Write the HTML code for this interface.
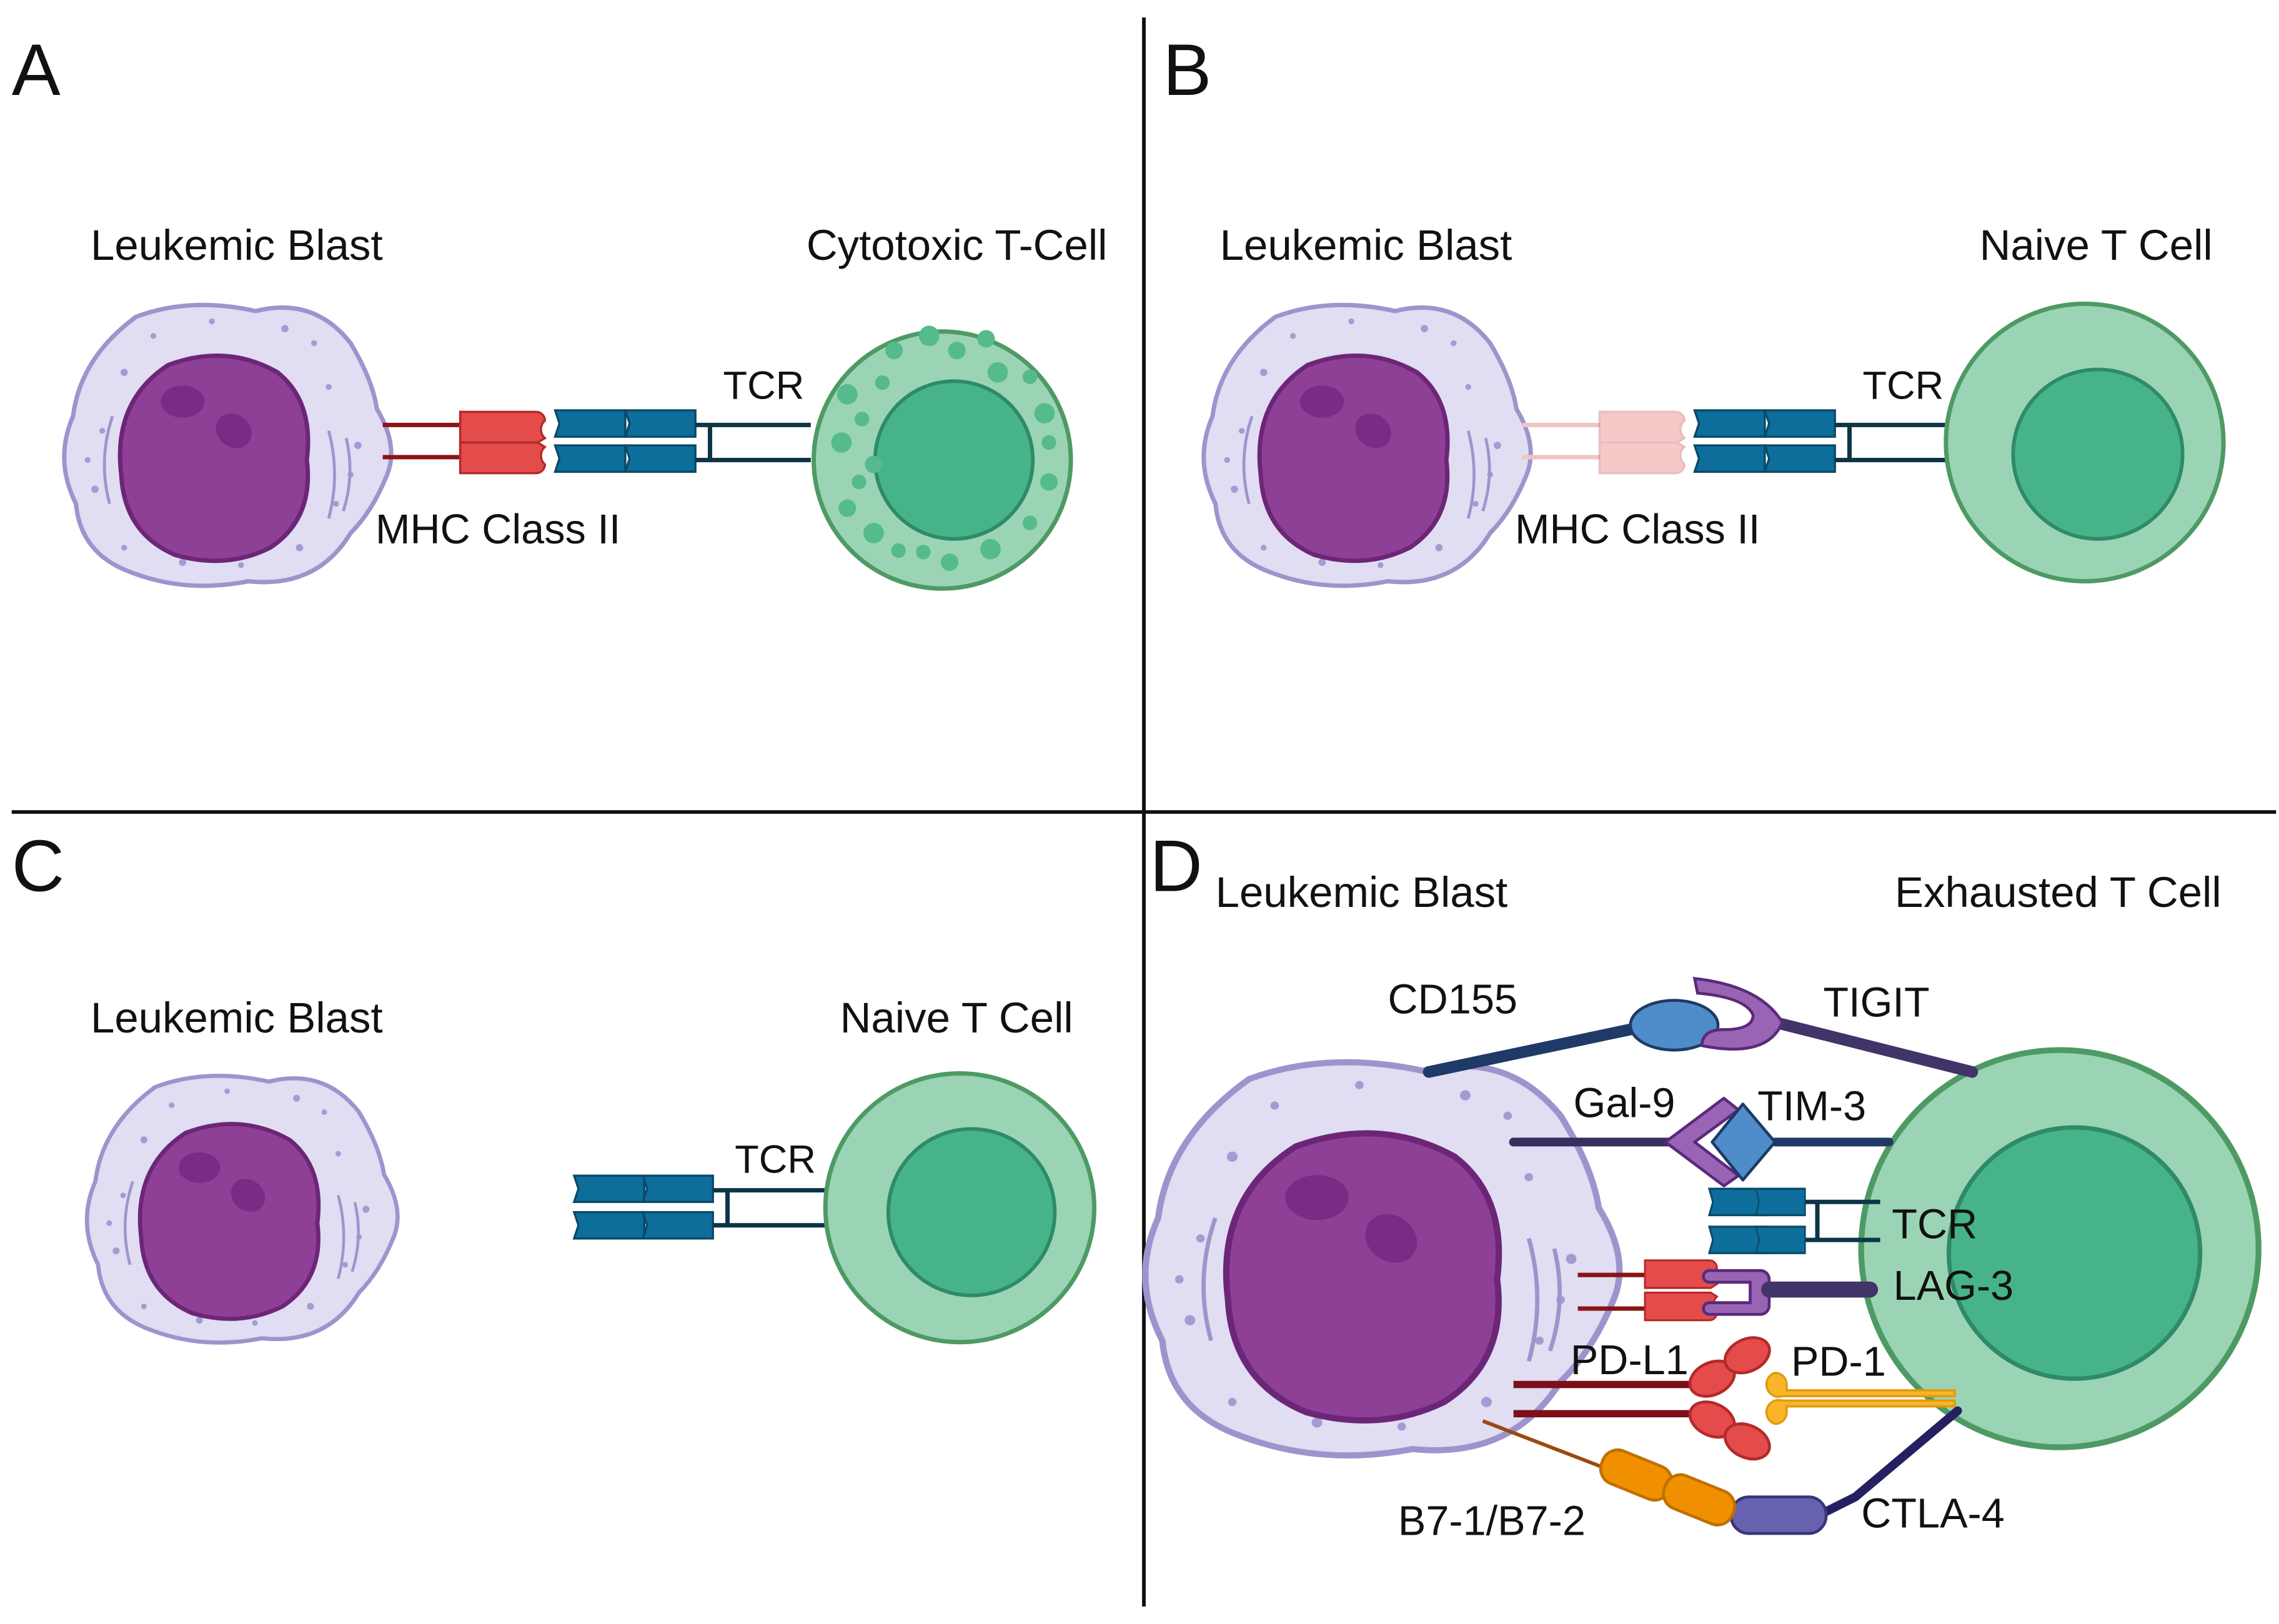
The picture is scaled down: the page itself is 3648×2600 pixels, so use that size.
<!DOCTYPE html>
<html><head><meta charset="utf-8"><style>
html,body{margin:0;padding:0;background:#fff;}
svg{display:block;}
text{font-family:"Liberation Sans",sans-serif;fill:#111;}
</style></head><body>
<svg width="3648" height="2600" viewBox="0 0 1560 1112" preserveAspectRatio="none" xmlns="http://www.w3.org/2000/svg">
<defs>
<g id="blast">
<path d="M -62,-88 Q -25,-102 20,-92 Q 60,-102 85,-70 Q 100,-45 103,-25 Q 118,0 110,20 Q 100,45 85,60 Q 62,98 15,93 Q -30,102 -70,85 Q -100,72 -103,40 Q -118,10 -105,-20 Q -100,-60 -62,-88 Z" fill="#e1ddf2" stroke="#9e94cd" stroke-width="3"/>
<g fill="#a49bd2">
<circle cx="-70" cy="-50" r="2.5"/><circle cx="-85" cy="-10" r="2"/><circle cx="-90" cy="30" r="2.5"/><circle cx="-70" cy="70" r="2"/><circle cx="-30" cy="80" r="2.5"/><circle cx="10" cy="82" r="2"/><circle cx="50" cy="70" r="2.5"/><circle cx="75" cy="40" r="2"/><circle cx="90" cy="0" r="2.5"/><circle cx="70" cy="-40" r="2"/><circle cx="40" cy="-80" r="2.5"/><circle cx="-10" cy="-85" r="2"/><circle cx="-50" cy="-75" r="2"/><circle cx="60" cy="-70" r="2"/><circle cx="85" cy="20" r="2"/><circle cx="-95" cy="10" r="2"/>
</g>
<path d="M 70,-10 Q 78,20 70,50" fill="none" stroke="#9e94cd" stroke-width="2"/>
<path d="M 82,-5 Q 88,20 80,45" fill="none" stroke="#9e94cd" stroke-width="2"/>
<path d="M -78,-20 Q -88,10 -80,40" fill="none" stroke="#9e94cd" stroke-width="2"/>
<path d="M -40,-55 Q 0,-70 35,-50 Q 60,-30 55,10 Q 60,50 30,70 Q 0,85 -35,75 Q -70,60 -72,20 Q -78,-30 -40,-55 Z" fill="#8e3f96" stroke="#6c2677" stroke-width="3"/>
<ellipse cx="-30" cy="-30" rx="15" ry="11" fill="#792c83"/>
<ellipse cx="5" cy="-10" rx="13" ry="11" fill="#792c83" transform="rotate(40 5 -10)"/>
</g>
<g id="mhc">
<path d="M0,0 h52 a6,6 0 0 1 6,6 a8,8 0 0 0 0,12 l-5,3 h-53 z" fill="#e44c4c" stroke="#b42a2a" stroke-width="1.5"/>
</g>
<g id="tcrblk">
<path d="M0,0 h48 v18 h-48 l3,-9 z" fill="#0d6e9c" stroke="#0a4a6a" stroke-width="1.5"/>
</g>
</defs>

<line x1="783" y1="12" x2="783" y2="1100" stroke="#111" stroke-width="2.5"/>
<line x1="8" y1="556" x2="1558" y2="556" stroke="#111" stroke-width="2.5"/>

<text x="8" y="65" font-size="50">A</text>
<text x="796" y="65" font-size="50">B</text>
<text x="8" y="610" font-size="50">C</text>
<text x="787" y="610" font-size="50">D</text>

<!-- Panel A -->
<text x="62" y="178" font-size="29.5">Leukemic Blast</text>
<text x="552" y="178" font-size="29.5">Cytotoxic T-Cell</text>
<use href="#blast" transform="translate(155,305)"/>
<line x1="262" y1="291" x2="315" y2="291" stroke="#8b1414" stroke-width="3"/>
<line x1="262" y1="313" x2="315" y2="313" stroke="#8b1414" stroke-width="3"/>
<use href="#mhc" transform="translate(315,282)"/>
<use href="#mhc" transform="translate(315,324) scale(1,-1)"/>
<use href="#tcrblk" transform="translate(380,281)"/>
<use href="#tcrblk" transform="translate(428,281)"/>
<use href="#tcrblk" transform="translate(380,305)"/>
<use href="#tcrblk" transform="translate(428,305)"/>
<path d="M476,291 H555 M476,315 H555 M486,291 V315" stroke="#0d3546" stroke-width="3" fill="none"/>
<text x="495" y="273" font-size="27">TCR</text>
<text x="257" y="372" font-size="28.5">MHC Class II</text>
<circle cx="645" cy="315" r="88" fill="#9ad4b4" stroke="#4e9a64" stroke-width="3"/>
<circle cx="653" cy="315" r="54" fill="#46b488" stroke="#2e8a68" stroke-width="2.5"/>
<g fill="#55bb8d">
<circle cx="580" cy="270" r="7"/><circle cx="590" cy="287" r="5"/><circle cx="576" cy="303" r="7"/><circle cx="588" cy="330" r="5"/><circle cx="580" cy="348" r="6"/><circle cx="598" cy="365" r="7"/><circle cx="615" cy="377" r="5"/><circle cx="632" cy="378" r="5"/><circle cx="650" cy="385" r="6"/><circle cx="678" cy="376" r="7"/><circle cx="705" cy="358" r="5"/><circle cx="718" cy="330" r="6"/><circle cx="718" cy="303" r="5"/><circle cx="715" cy="283" r="7"/><circle cx="705" cy="258" r="5"/><circle cx="683" cy="255" r="7"/><circle cx="675" cy="232" r="6"/><circle cx="655" cy="240" r="6"/><circle cx="636" cy="230" r="7"/><circle cx="612" cy="240" r="6"/><circle cx="604" cy="262" r="5"/><circle cx="598" cy="318" r="6"/>
</g>

<!-- Panel B -->
<text x="835" y="178" font-size="29.5">Leukemic Blast</text>
<text x="1355" y="178" font-size="29.5">Naive T Cell</text>
<use href="#blast" transform="translate(935,305)"/>
<line x1="1042" y1="291" x2="1095" y2="291" stroke="#f0c4c4" stroke-width="3"/>
<line x1="1042" y1="313" x2="1095" y2="313" stroke="#f0c4c4" stroke-width="3"/>
<g opacity="0.3"><use href="#mhc" transform="translate(1095,282)"/><use href="#mhc" transform="translate(1095,324) scale(1,-1)"/></g>
<use href="#tcrblk" transform="translate(1160,281)"/>
<use href="#tcrblk" transform="translate(1208,281)"/>
<use href="#tcrblk" transform="translate(1160,305)"/>
<use href="#tcrblk" transform="translate(1208,305)"/>
<path d="M1256,291 H1337 M1256,315 H1337 M1266,291 V315" stroke="#0d3546" stroke-width="3" fill="none"/>
<text x="1275" y="273" font-size="27">TCR</text>
<text x="1037" y="372" font-size="28.5">MHC Class II</text>
<circle cx="1427" cy="303" r="95" fill="#9ad4b4" stroke="#4e9a64" stroke-width="3"/>
<circle cx="1436" cy="311" r="58" fill="#46b488" stroke="#2e8a68" stroke-width="2.5"/>

<!-- Panel C -->
<text x="62" y="707" font-size="29.5">Leukemic Blast</text>
<text x="575" y="707" font-size="29.5">Naive T Cell</text>
<use href="#blast" transform="translate(165,828) scale(0.95)"/>
<use href="#tcrblk" transform="translate(393,805)"/>
<use href="#tcrblk" transform="translate(440,805)"/>
<use href="#tcrblk" transform="translate(393,830)"/>
<use href="#tcrblk" transform="translate(440,830)"/>
<path d="M488,815 H567 M488,839 H567 M498,815 V839" stroke="#0d3546" stroke-width="3" fill="none"/>
<text x="503" y="803" font-size="27">TCR</text>
<circle cx="657" cy="827" r="92" fill="#9ad4b4" stroke="#4e9a64" stroke-width="3"/>
<circle cx="665" cy="830" r="57" fill="#46b488" stroke="#2e8a68" stroke-width="2.5"/>

<!-- Panel D -->
<text x="832" y="621" font-size="29.5">Leukemic Blast</text>
<text x="1297" y="621" font-size="29.5">Exhausted T Cell</text>
<use href="#blast" transform="translate(945,862) scale(1.45,1.4)"/>
<circle cx="1410" cy="855" r="136" fill="#9ad4b4" stroke="#4e9a64" stroke-width="4"/>
<circle cx="1420" cy="858" r="86" fill="#46b488" stroke="#2e8a68" stroke-width="3"/>

<text x="950" y="694" font-size="28.5">CD155</text>
<text x="1248" y="696" font-size="28.5">TIGIT</text>
<line x1="978" y1="734" x2="1125" y2="703" stroke="#1f3a66" stroke-width="8" stroke-linecap="round"/>
<line x1="1215" y1="700" x2="1350" y2="734" stroke="#413468" stroke-width="8" stroke-linecap="round"/>
<ellipse cx="1146" cy="702" rx="30" ry="17" fill="#4f8cca" stroke="#1f3a66" stroke-width="2"/>
<path d="M1160,670 Q1205,675 1220,700 Q1210,725 1165,716 Q1165,705 1180,705 Q1200,705 1200,695 Q1195,683 1162,680 Z" fill="#9a64b4" stroke="#5a2a7a" stroke-width="2"/>

<text x="1077" y="765" font-size="28.5">Gal-9</text>
<text x="1203" y="767" font-size="28.5">TIM-3</text>
<line x1="1036" y1="782" x2="1145" y2="782" stroke="#362f60" stroke-width="6" stroke-linecap="round"/>
<line x1="1215" y1="782" x2="1293" y2="782" stroke="#1f3a66" stroke-width="6" stroke-linecap="round"/>
<path d="M1140,782 L1180,752 L1190,760 L1160,782 L1190,805 L1180,812 Z" fill="#9a64b4" stroke="#5a2a7a" stroke-width="2" stroke-linejoin="round"/>
<path d="M1193,756 L1215,782 L1193,808 L1172,782 Z" fill="#4f8cca" stroke="#1f3a66" stroke-width="2" stroke-linejoin="round"/>

<use href="#tcrblk" transform="translate(1170,814) scale(0.85,1)"/>
<use href="#tcrblk" transform="translate(1202,814) scale(0.7,1)"/>
<use href="#tcrblk" transform="translate(1170,840) scale(0.85,1)"/>
<use href="#tcrblk" transform="translate(1202,840) scale(0.7,1)"/>
<path d="M1236,823 H1287 M1236,849 H1287 M1244,823 V849" stroke="#0d3546" stroke-width="3" fill="none"/>
<text x="1295" y="848" font-size="28.5">TCR</text>

<line x1="1080" y1="873" x2="1126" y2="873" stroke="#8b1414" stroke-width="3"/>
<line x1="1080" y1="896" x2="1126" y2="896" stroke="#8b1414" stroke-width="3"/>
<use href="#mhc" transform="translate(1126,863) scale(0.85,0.9)"/>
<use href="#mhc" transform="translate(1126,904) scale(0.85,-0.9)"/>
<path d="M1170,870 h35 a6,6 0 0 1 6,6 v18 a6,6 0 0 1 -6,6 h-35 a4,4 0 0 1 0,-8 h28 v-14 h-28 a4,4 0 0 1 0,-8 z" fill="#9a64b4" stroke="#5a2a7a" stroke-width="2"/>
<line x1="1211" y1="883" x2="1280" y2="883" stroke="#413468" stroke-width="11" stroke-linecap="round"/>
<text x="1296" y="890" font-size="28.5">LAG-3</text>

<text x="1075" y="941" font-size="28.5">PD-L1</text>
<text x="1226" y="942" font-size="28.5">PD-1</text>
<line x1="1036" y1="948" x2="1165" y2="948" stroke="#7c0f18" stroke-width="5"/>
<line x1="1036" y1="968" x2="1165" y2="968" stroke="#7c0f18" stroke-width="5"/>
<g fill="#e44c4c" stroke="#b42a2a" stroke-width="2">
<ellipse cx="1172" cy="944" rx="16" ry="11" transform="rotate(-25 1172 944)"/>
<ellipse cx="1196" cy="928" rx="16" ry="11" transform="rotate(-25 1196 928)"/>
<ellipse cx="1172" cy="972" rx="16" ry="11" transform="rotate(25 1172 972)"/>
<ellipse cx="1196" cy="987" rx="16" ry="11" transform="rotate(25 1196 987)"/>
</g>
<g fill="#f9b52a" stroke="#e09a10" stroke-width="1.5">
<path d="M1215,940 a8,8 0 0 1 8,8 v4 H1338 v4 H1220 a8,8 0 0 1 -5,-16 z"/>
<path d="M1215,975 a8,8 0 0 0 8,-8 v-4 H1338 v-4 H1220 a8,8 0 0 0 -5,16 z"/>
</g>
<path d="M1340,966 L1270,1025 L1248,1036" stroke="#252060" stroke-width="6" fill="none" stroke-linecap="round"/>
<rect x="1185" y="1025" width="65" height="25" rx="12" fill="#6762b0" stroke="#3a357a" stroke-width="2"/>
<line x1="1015" y1="973" x2="1098" y2="1005" stroke="#9a4a10" stroke-width="2.5"/>
<rect x="1095" y="998" width="50" height="24" rx="11" fill="#f09000" stroke="#c07000" stroke-width="2" transform="rotate(22 1120 1010)"/>
<rect x="1138" y="1015" width="50" height="24" rx="11" fill="#f09000" stroke="#c07000" stroke-width="2" transform="rotate(22 1163 1027)"/>
<text x="957" y="1051" font-size="28.5">B7-1/B7-2</text>
<text x="1274" y="1046" font-size="28.5">CTLA-4</text>
</svg>
</body></html>
